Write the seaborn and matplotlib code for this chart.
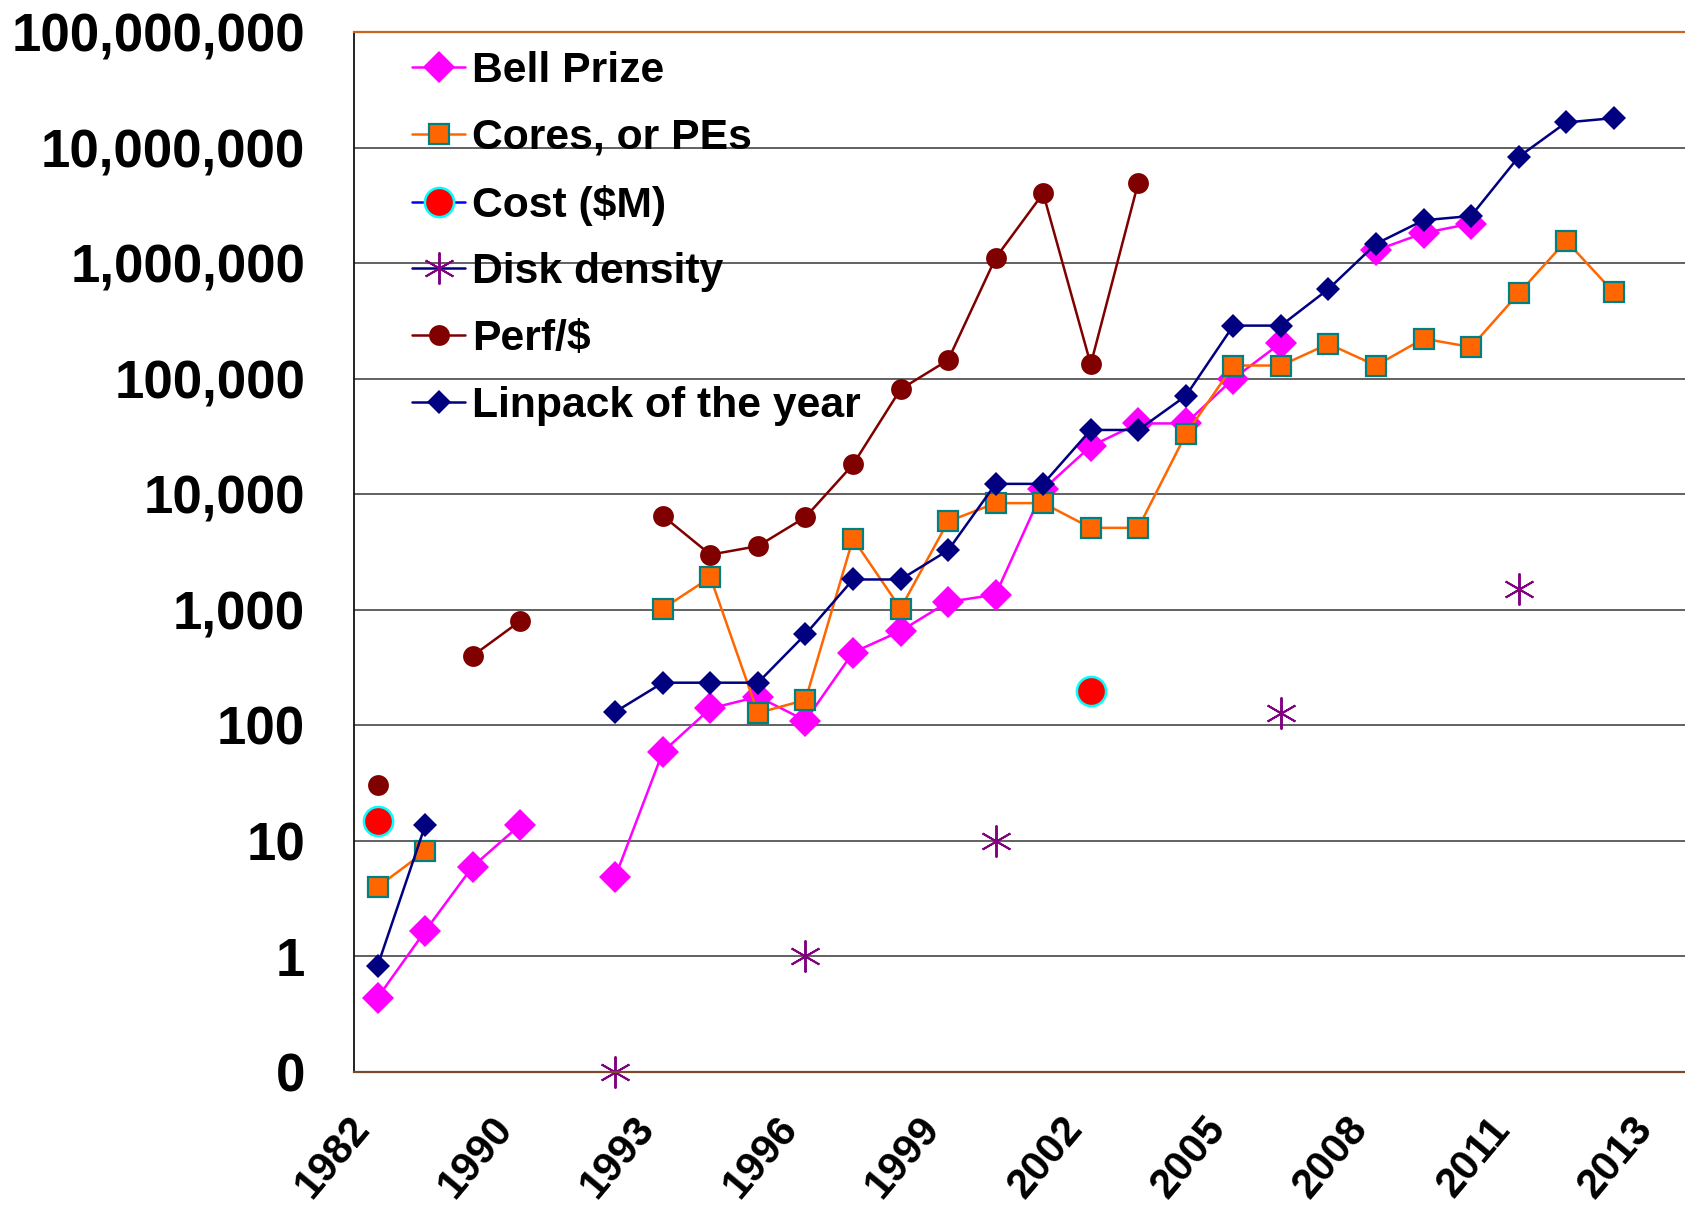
'''
Supercomputer trend lines (Bell Prize, cores, cost, disk, perf/$, Linpack) on a log scale
'''

import numpy as np
import pandas as pd
import matplotlib
matplotlib.use('Agg')
from matplotlib import pyplot as plt
from matplotlib.lines import Line2D
from matplotlib.ticker import FuncFormatter, NullLocator
import seaborn as sns

# 28 category slots on the x axis, labelled every third one
n_cats = 28
tick_years = ['1982', '1990', '1993', '1996', '1999', '2002', '2005', '2008', '2011', '2013']

bell_prize = [0.44, 1.66, 6.0, 13.8, None, 4.9, 59, 140, 177, 110, 427, 655, 1170, 1355,
              11000, 26000, 41000, 41000, 100000, 204000, None, 1290000, 1820000, 2200000,
              None, None, None, None]

cores = [4.0, 8.1, None, None, None, None, 1025, 1910, 128, 166, 4130, 1025, 5820, 8380,
         8380, 5120, 5120, 33000, 130000, 130000, 200000, 130000, 222000, 188000,
         547000, 1560000, 560000, None]

cost = [15.0, None, None, None, None, None, None, None, None, None, None, None, None, None,
        None, 200, None, None, None, None, None, None, None, None, None, None, None, None]

disk_density = [None, None, None, None, None, 0.1, None, None, None, 1.0, None, None, None, 10,
                None, None, None, None, None, 128, None, None, None, None, 1500, None, None, None]

perf_per_dollar = [30.5, None, 400, 800, None, None, 6500, 3000, 3560, 6340, 18100, 81000,
                   145000, 1110000, 4020000, 133000, 4980000, None, None, None, None, None,
                   None, None, None, None, None, None]

linpack = [0.83, 13.6, None, None, None, 131, 234, 234, 234, 614, 1830, 1830, 3270, 12300,
           12300, 36000, 36000, 71000, 288000, 288000, 597000, 1470000, 2350000, 2560000,
           8300000, 16500000, 18000000, None]


def to_frame(vals):
    # empty cells break the line, like the spreadsheet did
    rows = []
    seg = 0
    for i, v in enumerate(vals):
        if v is None:
            seg += 1
            continue
        rows.append((i, v, seg))
    return pd.DataFrame(rows, columns=['pos', 'value', 'seg'])


def main():
    sns.set_style('white')
    plt.rcParams['font.family'] = ['Liberation Sans', 'DejaVu Sans']
    plt.rcParams['font.weight'] = 'bold'
    plt.rcParams['text.color'] = 'black'
    plt.rcParams['xtick.color'] = 'black'
    plt.rcParams['ytick.color'] = 'black'

    fig = plt.figure(figsize=(16.85, 12.09), dpi=100)
    ax = fig.add_axes([0.21, 0.1133, 0.79, 0.8602])
    ax.set_yscale('log')

    lw = 1.8
    line_kw = dict(estimator=None, units='seg', linewidth=lw, legend=False, clip_on=False, ax=ax)

    sns.lineplot(data=to_frame(bell_prize), x='pos', y='value', color='#FF00FF',
                 marker='D', markersize=16, markeredgewidth=0, **line_kw)
    sns.lineplot(data=to_frame(cores), x='pos', y='value', color='#FF6600',
                 marker='s', markersize=14, markerfacecolor='#FF6600',
                 markeredgecolor='#008080', markeredgewidth=1.6, **line_kw)
    sns.lineplot(data=to_frame(cost), x='pos', y='value', color='#0000FF', linestyle='none',
                 marker='o', markersize=21, markerfacecolor='#FF0000',
                 markeredgecolor='#00FFFF', markeredgewidth=1.8, **line_kw)
    sns.lineplot(data=to_frame(disk_density), x='pos', y='value', color='#800080', linestyle='none',
                 marker=(6, 2, 0), markersize=23, markeredgecolor='#800080',
                 markeredgewidth=1.4, **line_kw)
    sns.lineplot(data=to_frame(perf_per_dollar), x='pos', y='value', color='#800000',
                 marker='o', markersize=15, markeredgewidth=0, **line_kw)
    sns.lineplot(data=to_frame(linpack), x='pos', y='value', color='#000080',
                 marker='D', markersize=12.5, markeredgewidth=0, **line_kw)

    ax.set_xlim(-0.5, n_cats - 0.5)
    ax.set_ylim(0.1, 1e8)
    ax.set_xlabel('')
    ax.set_ylabel('')

    # y axis: decades, "0" for 0.1 like the original sheet
    ax.set_yticks([10.0 ** k for k in range(-1, 9)])
    ax.yaxis.set_minor_locator(NullLocator())
    ax.yaxis.set_major_formatter(FuncFormatter(lambda v, p: '0' if v < 1 else f'{int(round(v)):,}'))
    ax.tick_params(axis='y', which='major', direction='out', length=11, width=1.2,
                   color='#444444', pad=24, labelsize=38, labelcolor='black')
    ax.yaxis.grid(True, color='#555555', linewidth=1.3)
    ax.set_axisbelow(True)

    # x axis: tick marks between categories, labels on every third category
    ax.set_xticks(np.arange(-0.5, n_cats, 1.0))
    ax.set_xticklabels([])
    ax.set_xticks(list(range(0, n_cats, 3)), labels=tick_years, minor=True)
    ax.tick_params(axis='x', which='major', direction='out', length=11, width=1.2,
                   color='#222222')
    ax.tick_params(axis='x', which='minor', length=0, pad=27, labelsize=30, labelcolor='black')
    for lab in ax.get_xticklabels(minor=True):
        lab.set_rotation(50)
        lab.set_rotation_mode('default')
        lab.set_horizontalalignment('right')
        lab.set_verticalalignment('top')
        lab.set_fontweight('bold')
    for lab in ax.get_yticklabels():
        lab.set_fontweight('bold')

    ax.spines['right'].set_visible(False)
    ax.spines['top'].set_color('#C8641E')
    ax.spines['top'].set_linewidth(1.6)
    ax.spines['bottom'].set_color('#7A4A2A')
    ax.spines['bottom'].set_linewidth(1.6)
    ax.spines['left'].set_color('#111111')
    ax.spines['left'].set_linewidth(1.3)

    handles = [
        Line2D([], [], color='#FF00FF', lw=lw, marker='D', ms=16, mew=0),
        Line2D([], [], color='#FF6600', lw=lw, marker='s', ms=14, mfc='#FF6600',
               mec='#008080', mew=1.6),
        Line2D([], [], color='#0000FF', lw=lw, marker='o', ms=21, mfc='#FF0000',
               mec='#00FFFF', mew=1.8),
        Line2D([], [], color='#000080', lw=lw, marker=(6, 2, 0), ms=23, mec='#800080', mew=1.4),
        Line2D([], [], color='#800000', lw=lw, marker='o', ms=15, mew=0),
        Line2D([], [], color='#000080', lw=lw, marker='D', ms=12.5, mew=0),
    ]
    labels = ['Bell Prize', 'Cores, or PEs', 'Cost ($M)', 'Disk density', 'Perf/$',
              'Linpack of the year']
    ax.legend(handles, labels, loc='upper left', bbox_to_anchor=(0.2445, 0.958),
              bbox_transform=fig.transFigure, frameon=False, borderpad=0, borderaxespad=0,
              handlelength=1.25, handletextpad=0.15, labelspacing=0.63,
              prop={'family': 'Liberation Sans', 'weight': 'bold', 'size': 30.7})

    fig.savefig('out.png', dpi=100)
    plt.close(fig)


if __name__ == '__main__':
    main()
